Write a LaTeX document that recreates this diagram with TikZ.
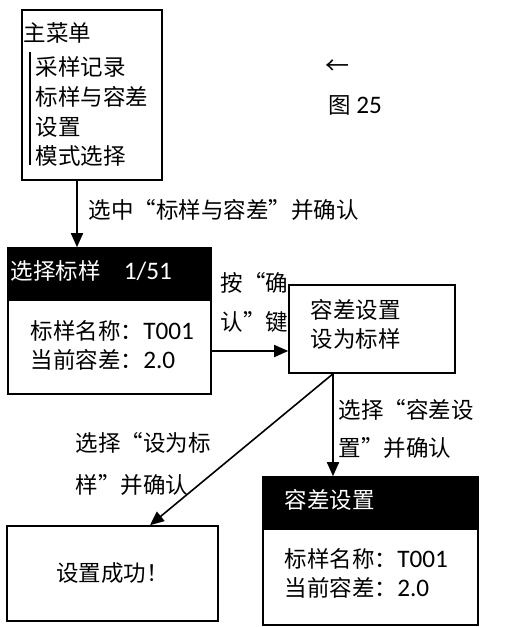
\documentclass[tikz,border=0pt]{standalone}
\usepackage{fontspec}
\setmainfont{Noto Sans CJK SC}
\newfontfamily\latin{Carlito}[Scale=1.12]
\usetikzlibrary{arrows.meta,positioning}

\begin{document}
\begin{tikzpicture}[x=1pt,y=-1pt,font=\fontsize{22.5}{26}\selectfont,line width=1.6pt,
  box/.style={draw,rectangle,inner sep=0pt},
  head/.style={draw,fill=black,rectangle,inner sep=0pt},
  txt/.style={anchor=west,inner sep=0pt},
  arr/.style={-{Triangle[length=14pt,width=12pt]}}]
\useasboundingbox (0,0) rectangle (515,627);

% main menu
\node [box,minimum width=140pt,minimum height=170pt] (menu) at (92,95) {};
\node [txt] (m0) at (23,33) {主菜单};
\node [txt] (m1) at (35,67) {采样记录};
\node [txt] (m2) at (35,97) {标样与容差};
\node [txt] (m3) at (35,127) {设置};
\node [txt] (m4) at (35,156) {模式选择};
\draw [line width=1.2pt] (30,52) -- (30,165);

% select sample
\node [head,minimum width=203pt,minimum height=52pt] (selh) at (109.5,274) {};
\node [box,minimum width=203pt,minimum height=94pt] (sel) at (109.5,347) {};
\node [txt,text=white] (s0) at (10,271) {选择标样};
\node [txt,text=white] (s1) at (123,271) {\latin 1/51};
\node [txt] (s2) at (30,331) {标样名称：{\latin T001}};
\node [txt] (s3) at (30,360) {当前容差：{\latin 2.0}};

% tolerance menu
\node [box,minimum width=166pt,minimum height=88pt] (tol) at (372,329) {};
\node [txt] (t1) at (310,310) {容差设置};
\node [txt] (t2) at (310,339) {设为标样};

% success
\node [box,minimum width=211pt,minimum height=95pt] (ok) at (112.5,573.5) {设置成功！};

% tolerance setting
\node [head,minimum width=215pt,minimum height=52pt] (seth) at (370.5,503) {};
\node [box,minimum width=215pt,minimum height=96pt] (set) at (370.5,577) {};
\node [txt,text=white] (e0) at (284,500) {容差设置};
\node [txt] (e1) at (284,559) {标样名称：{\latin T001}};
\node [txt] (e2) at (284,588) {当前容差：{\latin 2.0}};

% labels
\node [txt] (l1) at (88,210) {选中“标样与容差”并确认};
\node [txt] (l2) at (220,283) {按“确};
\node [txt] (l3) at (220,322) {认”键};
\node [txt] (l4) at (338,410) {选择“容差设};
\node [txt] (l5) at (338,448) {置”并确认};
\node [txt] (l6) at (75,443) {选择“设为标};
\node [txt] (l7) at (75,485) {样”并确认};
\node [txt,font=\fontsize{24}{26}\selectfont] (fa) at (325,67) {←};
\node [txt] (fig) at (328,105) {图 {\latin 25}};

% connectors
\coordinate (c1) at (77,0);
\coordinate (c2) at (0,351);
\coordinate (c3) at (333,0);
\coordinate (c4) at (150,0);
\draw [arr] (menu.south -| c1) -- (selh.north -| c1);
\draw [arr] (sel.east |- c2) -- (tol.west |- c2);
\draw [arr] (tol.south -| c3) -- (seth.north -| c3);
\draw [arr] (tol.south -| c3) -- (ok.north -| c4);

\end{tikzpicture}
\end{document}
